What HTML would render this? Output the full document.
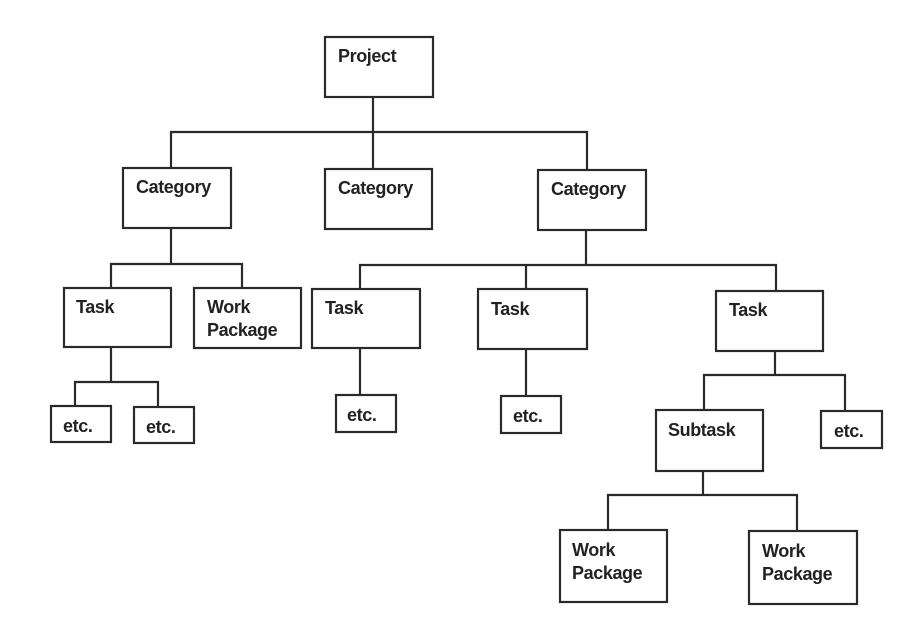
<!DOCTYPE html>
<html><head><style>html,body{margin:0;padding:0;background:#fff}</style></head>
<body>
<svg width="907" height="639" viewBox="0 0 907 639" xmlns="http://www.w3.org/2000/svg">
<g fill="none" stroke="#2a2a2a" stroke-width="2.2">
<rect x="325" y="37" width="108" height="60"/>
<rect x="123" y="168" width="108" height="60"/>
<rect x="325" y="169" width="107" height="60"/>
<rect x="538" y="170" width="108" height="60"/>
<rect x="64" y="288" width="107" height="59"/>
<rect x="194" y="288" width="107" height="60"/>
<rect x="312" y="289" width="108" height="59"/>
<rect x="478" y="289" width="109" height="60"/>
<rect x="716" y="291" width="107" height="60"/>
<rect x="51" y="406" width="60" height="36"/>
<rect x="134" y="407" width="60" height="36"/>
<rect x="336" y="395" width="60" height="37"/>
<rect x="501" y="396" width="60" height="37"/>
<rect x="656" y="410" width="107" height="61"/>
<rect x="821" y="411" width="61" height="37"/>
<rect x="560" y="530" width="107" height="72"/>
<rect x="749" y="531" width="108" height="73"/>
<path d="M373 97V168M171 168V132H587V170"/>
<path d="M171 228V264M111 288V264H242V288"/>
<path d="M586 230V265M360 289V265H776V291M526 265V289"/>
<path d="M111 347V382M75 406V382H158V407"/>
<path d="M360 348V395M526 349V396"/>
<path d="M775 351V375M704 410V375H845V411"/>
<path d="M703 471V495M608 530V495H797V531"/>
</g>
<g font-family="Liberation Sans, Arial, sans-serif" font-weight="bold" font-size="18" letter-spacing="-0.4" fill="#222">
<text x="338" y="62">Project</text>
<text x="136" y="193">Category</text>
<text x="338" y="194">Category</text>
<text x="551" y="195">Category</text>
<text x="76" y="313">Task</text>
<text x="207" y="313">Work</text>
<text x="207" y="336">Package</text>
<text x="325" y="314">Task</text>
<text x="491" y="315">Task</text>
<text x="729" y="316">Task</text>
<text x="63" y="432">etc.</text>
<text x="146" y="433">etc.</text>
<text x="347" y="421">etc.</text>
<text x="513" y="422">etc.</text>
<text x="668" y="436">Subtask</text>
<text x="834" y="437">etc.</text>
<text x="572" y="556">Work</text>
<text x="572" y="579">Package</text>
<text x="762" y="557">Work</text>
<text x="762" y="580">Package</text>
</g>
</svg>
</body></html>
